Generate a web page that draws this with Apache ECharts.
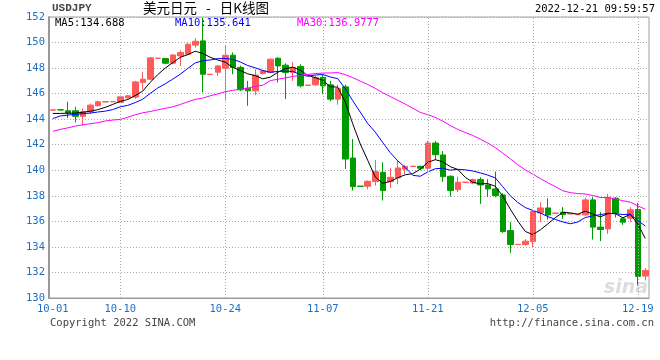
<!DOCTYPE html>
<html><head><meta charset="utf-8">
<script src="https://cdn.jsdelivr.net/npm/echarts@6/dist/echarts.min.js"></script>
<style>html,body{margin:0;padding:0;background:#fff}#c{width:660px;height:360px}</style>
</head><body><div id="c"></div>
<script>
const dates = ['10-01','10-02','10-03','10-04','10-05','10-06','10-07','10-08','10-09','10-10',
'10-11','10-12','10-13','10-14','10-15','10-16','10-17','10-18','10-19','10-20',
'10-21','10-22','10-23','10-24','10-25','10-26','10-27','10-28','10-29','10-31',
'11-01','11-02','11-03','11-04','11-05','11-06','11-07','11-08','11-09','11-10',
'11-11','11-12','11-13','11-14','11-15','11-16','11-17','11-18','11-19','11-20',
'11-21','11-22','11-23','11-24','11-25','11-26','11-27','11-28','11-29','11-30',
'12-01','12-02','12-03','12-04','12-05','12-06','12-07','12-08','12-09','12-10',
'12-11','12-12','12-13','12-14','12-15','12-16','12-17','12-18','12-19','12-20'];
const opens = [144.70,144.74,144.66,144.66,144.22,144.58,145.05,145.35,145.36,145.31,
145.67,145.73,146.88,147.13,148.76,148.75,148.38,148.95,149.09,149.80,
150.13,147.50,147.68,147.99,149.01,148.05,146.43,146.22,147.58,147.66,
148.77,148.23,147.66,148.13,146.65,146.69,147.27,146.69,145.57,146.53,
140.96,138.76,138.75,139.11,139.84,139.11,139.40,140.10,140.30,140.31,
140.16,142.13,141.20,139.53,138.48,139.05,139.00,139.27,138.85,138.54,
138.07,135.28,134.18,134.19,134.42,136.66,137.05,136.63,136.72,136.58,
136.52,136.51,137.68,135.55,135.41,137.81,136.20,136.25,136.92,131.72];
const closes = [144.73,144.72,144.48,144.22,144.58,145.10,145.36,145.37,145.38,145.75,
145.83,146.92,147.13,148.80,148.78,148.38,149.03,149.22,149.87,150.10,
147.52,147.52,148.17,149.01,148.05,146.30,146.22,147.45,147.78,148.70,
148.17,147.66,148.05,146.61,146.67,147.27,146.61,145.57,146.40,140.88,
138.72,138.74,139.14,139.89,138.41,139.45,140.18,140.31,140.32,140.16,
142.13,141.22,139.50,138.41,139.06,139.07,139.27,138.85,138.54,138.02,
135.20,134.19,134.20,134.45,136.77,137.05,136.50,136.65,136.53,136.60,
136.54,137.68,135.55,135.36,137.89,136.64,135.94,136.90,131.69,132.16];
const lows = [144.70,144.68,144.09,143.75,143.48,144.40,144.98,145.35,145.36,145.25,
145.60,145.60,146.30,147.05,148.76,148.30,148.30,148.17,149.00,149.60,
146.10,147.50,147.39,145.44,147.52,146.20,145.05,145.88,147.50,147.60,
146.87,145.57,147.00,146.50,146.65,146.60,145.96,145.40,145.13,140.10,
138.41,138.74,138.50,138.80,137.63,138.62,138.90,139.70,140.30,140.00,
140.00,140.80,139.10,137.94,138.30,139.05,138.90,137.37,137.90,137.89,
135.10,133.54,134.18,134.10,134.00,135.94,136.14,136.63,136.20,136.58,
136.52,136.40,134.58,134.45,135.02,136.30,135.73,135.94,130.98,131.37];
const highs = [144.73,144.80,145.36,144.97,144.84,145.22,145.45,145.37,145.38,145.85,
145.90,147.00,147.70,148.85,148.78,148.78,149.05,149.40,149.95,150.33,
151.94,147.52,148.20,149.73,149.22,148.20,147.00,147.91,147.85,148.75,
148.85,148.38,148.48,148.30,146.67,147.40,147.52,147.00,146.70,146.70,
142.45,138.76,139.20,140.80,140.63,140.18,140.80,140.40,140.32,140.35,
142.30,142.30,141.50,139.60,139.50,139.07,139.35,139.45,139.30,139.90,
138.20,135.94,134.20,134.60,136.85,137.50,137.81,136.65,137.11,136.60,
136.54,137.85,137.89,136.72,138.15,137.90,136.30,137.11,137.44,132.34];
// moving-average values before a full window exists
const ma5Head = [144.45,144.45,144.47,144.47];
const ma10Head = [144.05,144.25,144.32,144.38,144.43,144.48,144.56,144.63,144.75];
const ma30Head = [143.05,143.20,143.32,143.46,143.56,143.64,143.73,143.86,143.93,143.98,
144.15,144.35,144.50,144.60,144.73,144.85,144.97,145.15,145.36,145.55,
145.65,145.83,145.98,146.15,146.26,146.35,146.42,146.58,146.66];
const xTickLabels = ['10-01','10-10','10-24','11-07','11-21','12-05','12-19'];
const yMin = 130, yMax = 152, yStep = 2;
const maLegend = ['MA5:134.688','MA10:135.641','MA30:136.9777'];

function movingAvg(n, head) {
  return closes.map((c, i) => {
    if (i < n - 1) return head[i];
    let s = 0;
    for (let k = i - n + 1; k <= i; k++) s += closes[k];
    return +(s / n).toFixed(3);
  });
}
const kData = dates.map((d, i) => [opens[i], closes[i], lows[i], highs[i]]);

const mono = 'DejaVu Sans Mono';
const blue = '#1c70c4';
const chart = echarts.init(document.getElementById('c'), null, {renderer: 'canvas'});
chart.setOption({
  animation: false,
  backgroundColor: '#fff',
  grid: {left: 49, right: 11, top: 17, bottom: 62, show: true, borderColor: '#a0a0a0', borderWidth: 1},
  xAxis: {
    type: 'category', data: dates, boundaryGap: true,
    axisLine: {show: true, lineStyle: {color: '#999', width: 1}},
    axisTick: {show: false},
    splitLine: {show: false},
    axisLabel: {
      interval: (i, v) => xTickLabels.includes(v),
      color: blue, fontFamily: mono, fontSize: 10.5, margin: 6
    }
  },
  yAxis: {
    type: 'value', min: yMin, max: yMax, interval: yStep, scale: true,
    axisLine: {show: true, lineStyle: {color: '#999', width: 2}},
    axisTick: {show: false},
    splitLine: {show: true, lineStyle: {color: '#aaa', type: [1, 2], width: 1}},
    axisLabel: {color: blue, fontFamily: mono, fontSize: 10.5, margin: 4}
  },
  series: [
    {
      type: 'candlestick', data: kData, barWidth: 6,
      itemStyle: {color: '#ff5a5a', color0: '#009b00', borderColor: '#ff5a5a', borderColor0: '#009b00', borderWidth: 1},
      markLine: {
        silent: true, symbol: ['none', 'none'], label: {show: false},
        lineStyle: {color: '#aaa', type: [1, 2], width: 1},
        data: xTickLabels.slice(1).map(v => ({xAxis: v}))
      },
      z: 2
    },
    {type: 'line', data: movingAvg(5, ma5Head), symbol: 'none', lineStyle: {color: '#000', width: 1}, itemStyle: {color: '#000'}, z: 3},
    {type: 'line', data: movingAvg(10, ma10Head), symbol: 'none', lineStyle: {color: '#0000ff', width: 1}, itemStyle: {color: '#0000ff'}, z: 3},
    {type: 'line', data: movingAvg(30, ma30Head), symbol: 'none', lineStyle: {color: '#ff00ff', width: 1}, itemStyle: {color: '#ff00ff'}, z: 3}
  ],
  graphic: [
    {type: 'text', left: 52, top: 3, style: {text: 'USDJPY', font: 'bold 11px "Liberation Mono"', fill: '#444'}},
    {type: 'text', left: 143, top: 1, style: {text: '美元日元   -   日K线图', font: '13.5px "Noto Sans CJK SC"', fill: '#000'}},
    {type: 'text', right: 5, top: 4, style: {text: '2022-12-21 09:59:57', font: '10.5px "DejaVu Sans Mono"', fill: '#000'}},
    {type: 'text', left: 55, top: 18, z: 10, style: {text: maLegend[0], font: '10.5px "DejaVu Sans Mono"', fill: '#000'}},
    {type: 'text', left: 175, top: 18, z: 10, style: {text: maLegend[1], font: '10.5px "DejaVu Sans Mono"', fill: '#0000ff'}},
    {type: 'text', left: 297, top: 18, z: 10, style: {text: maLegend[2], font: '10.5px "DejaVu Sans Mono"', fill: '#ff00ff'}},
    {type: 'text', left: 50, top: 318, style: {text: 'Copyright 2022 SINA.COM', font: '10.5px "DejaVu Sans Mono"', fill: '#444'}},
    {type: 'text', right: 6, top: 318, style: {text: 'http://finance.sina.com.cn', font: '10.5px "DejaVu Sans Mono"', fill: '#444'}},
    {type: 'text', right: 12, top: 279, z: 1, style: {text: 'sina', font: 'italic bold 19px "DejaVu Sans"', fill: 'rgba(180,180,180,0.45)'}}
  ]
});
</script></body></html>
